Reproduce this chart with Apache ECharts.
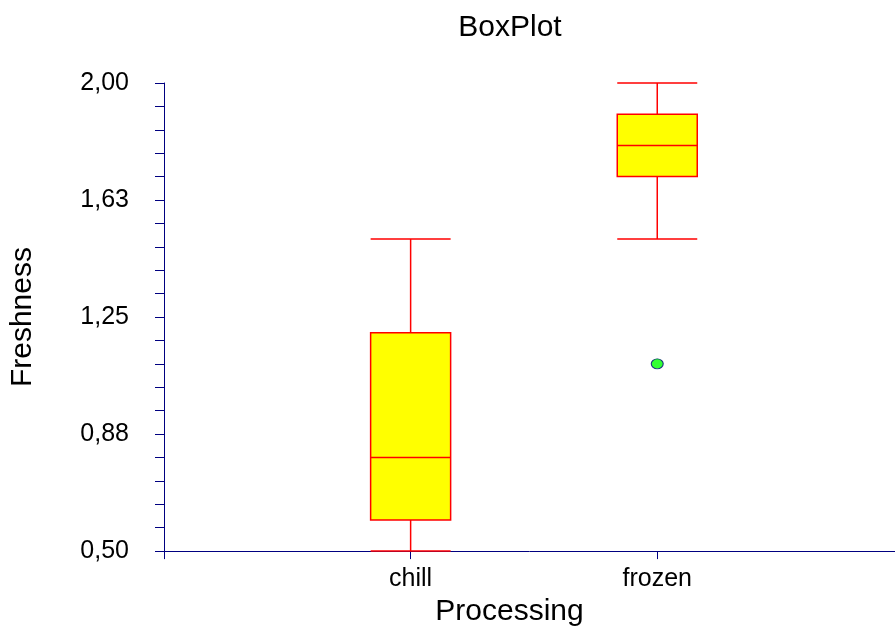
<!DOCTYPE html>
<html>
<head>
<meta charset="utf-8">
<script src="https://cdn.jsdelivr.net/npm/echarts@6/dist/echarts.min.js"></script>
<style>
  html, body { margin: 0; padding: 0; background: #ffffff; }
  #chart { width: 895px; height: 632px; }
</style>
</head>
<body>
<div id="chart"></div>
<script>
// Groups along the x axis, placed at positions 1, 2, ...
const categories = ['chill', 'frozen'];
const categoryPositions = [1, 2];

// Five-number summaries per group: [min, Q1, median, Q3, max]
const chillStats = [0.50, 0.60, 0.80, 1.20, 1.50];
const frozenStats = [1.50, 1.70, 1.80, 1.90, 2.00];

// Outlying observations: [group position, value]
const outliers = [[2, 1.10]];

// Y axis labelled ticks and their text
const yTickValues = [0.5, 0.875, 1.25, 1.625, 2.0];
const yTickLabels = ['0,50', '0,88', '1,25', '1,63', '2,00'];
// Minor tick marks between the labelled ones
const yMinorTicks = [0.5, 0.575, 0.65, 0.725, 0.8, 0.875, 0.95, 1.025, 1.1, 1.175,
  1.25, 1.325, 1.4, 1.475, 1.55, 1.625, 1.7, 1.775, 1.85, 1.925, 2.0];

const axisBlue = '#000080';
const fontFamily = '"Liberation Sans", Arial, sans-serif';

const boxData = [
  [categoryPositions[0]].concat(chillStats),
  [categoryPositions[1]].concat(frozenStats)
];

const chart = echarts.init(document.getElementById('chart'), null, { renderer: 'canvas' });
chart.setOption({
  animation: false,
  backgroundColor: '#ffffff',
  title: {
    text: 'BoxPlot',
    left: 505,
    top: 8,
    textAlign: 'center',
    textStyle: { fontFamily: fontFamily, fontSize: 30, fontWeight: 'normal', color: '#000000' }
  },
  grid: { left: 163, top: 83, right: 0, height: 469, containLabel: false },
  xAxis: {
    type: 'value',
    min: 0,
    max: 2.964,
    name: 'Processing',
    nameLocation: 'middle',
    nameGap: 40,
    nameTextStyle: { fontFamily: fontFamily, fontSize: 30, color: '#000000', padding: [0, 40, 0, 0] },
    axisLine: { show: true, onZero: false, lineStyle: { color: axisBlue, width: 1 } },
    axisTick: { show: true, length: 8, customValues: [0].concat(categoryPositions), lineStyle: { color: axisBlue, width: 1 } },
    splitLine: { show: false },
    axisLabel: {
      customValues: categoryPositions,
      margin: 16,
      fontFamily: fontFamily,
      fontSize: 25,
      color: '#000000',
      formatter: function (v) {
        const i = categoryPositions.indexOf(v);
        return i >= 0 ? categories[i] : '';
      }
    }
  },
  yAxis: {
    type: 'value',
    min: 0.5,
    max: 2.0,
    name: 'Freshness',
    nameLocation: 'middle',
    nameGap: 126,
    nameRotate: 90,
    nameTextStyle: { fontFamily: fontFamily, fontSize: 30, color: '#000000' },
    axisLine: { show: true, onZero: false, lineStyle: { color: axisBlue, width: 1 } },
    axisTick: { show: true, length: 9, customValues: yMinorTicks, lineStyle: { color: axisBlue, width: 1 } },
    splitLine: { show: false },
    axisLabel: {
      customValues: yTickValues,
      margin: 35,
      fontFamily: fontFamily,
      fontSize: 25,
      color: '#000000',
      formatter: function (v) {
        let best = 0;
        for (let i = 0; i < yTickValues.length; i++) {
          if (Math.abs(yTickValues[i] - v) < Math.abs(yTickValues[best] - v)) best = i;
        }
        return yTickLabels[best];
      }
    }
  },
  series: [
    {
      type: 'boxplot',
      layout: 'horizontal',
      boxWidth: [80, 80],
      data: boxData,
      itemStyle: { color: '#ffff00', borderColor: '#ff0000', borderWidth: 1.5 },
      emphasis: { disabled: true }
    },
    {
      type: 'scatter',
      data: outliers,
      symbol: 'circle',
      symbolSize: [12, 10],
      itemStyle: { color: '#00ff00', borderColor: axisBlue, borderWidth: 1 },
      emphasis: { disabled: true }
    }
  ]
});
</script>
</body>
</html>
